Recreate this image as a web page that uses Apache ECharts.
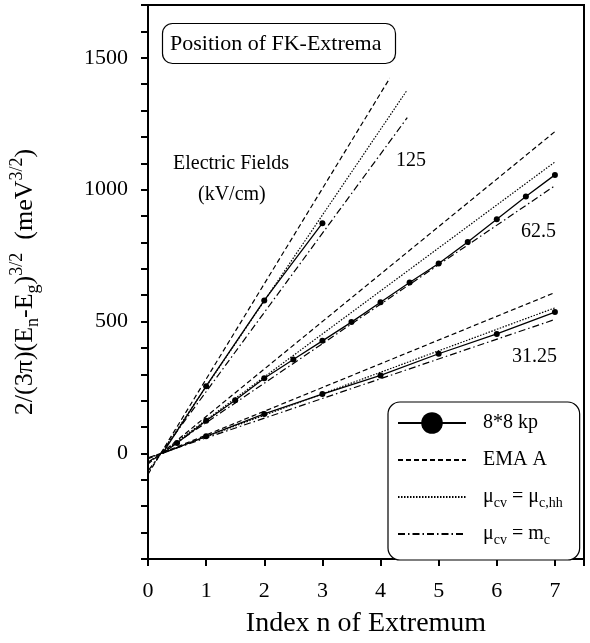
<!DOCTYPE html>
<html>
<head>
<meta charset="utf-8">
<script src="https://cdn.jsdelivr.net/npm/echarts@6/dist/echarts.min.js"></script>
<style>
  html, body { margin: 0; padding: 0; background: #fff; }
  #chartDom { width: 590px; height: 643px; }
</style>
</head>
<body>
<div id="chartDom"></div>
<script>
// 8*8 kp results (solid line with dots), one list per field
const kp125 = [[0.25, 0], [1, 255], [2, 580], [3, 873]];
const kp625 = [[0.25, 0], [0.5, 40], [1, 124], [1.5, 202], [2, 285], [2.5, 356], [3, 427], [3.5, 498],
  [4, 573], [4.5, 648], [5, 720], [5.5, 802], [6, 888], [6.5, 974], [7, 1056]];
const kp3125 = [[0.25, 0], [1, 65], [2, 150], [3, 225], [4, 296], [5, 378], [6, 453], [7, 536]];

// straight model lines: [start, end]
const ema125 = [[0, -79], [4.16, 1423]];
const hh125 = [[0, -72], [4.45, 1375]];
const mc125 = [[0, -66], [4.46, 1273]];
const ema625 = [[0, -40], [7, 1220]];
const hh625 = [[0, -36], [7, 1105]];
const mc625 = [[0, -33], [7, 1015]];
const ema3125 = [[0, -20], [7, 610]];
const hh3125 = [[0, -18], [7, 552]];
const mc3125 = [[0, -16], [7, 508]];

const legendNames = ['kp', 'ema', 'hh', 'mc'];
const legendLabels = {
  kp: '8*8 kp',
  ema: 'EMA A',
  hh: 'μ{sub|cv} = μ{sub|c,hh}',
  mc: 'μ{sub|cv} = m{sub|c}'
};

const serif = 'Liberation Serif';
const chart = echarts.init(document.getElementById('chartDom'));

const styles = {
  kp: { type: 'solid', width: 1.3 },
  ema: { type: [5, 3], width: 1.2 },
  hh: { type: [1.5, 1.5], width: 1.2 },
  mc: { type: [7, 3, 1.5, 3], width: 1.2 }
};

function line(name, data) {
  const isKp = name === 'kp';
  return {
    name: name,
    type: 'line',
    data: isKp ? data.map((p, i) => (i === 0 && p[1] === 0 ? { value: p, symbol: 'none' } : p)) : data,
    symbol: isKp ? 'circle' : 'none',
    symbolSize: 6,
    showSymbol: isKp,
    itemStyle: { color: '#000', opacity: isKp ? 1 : 0 },
    lineStyle: Object.assign({ color: '#000', opacity: 1 }, styles[name]),
    emphasis: { disabled: true },
    animation: false,
    z: isKp ? 3 : 2
  };
}

const series = [
  line('kp', kp125), line('ema', ema125), line('hh', hh125), line('mc', mc125),
  line('kp', kp625), line('ema', ema625), line('hh', hh625), line('mc', mc625),
  line('kp', kp3125), line('ema', ema3125), line('hh', hh3125), line('mc', mc3125)
];

const option = {
  backgroundColor: '#fff',
  textStyle: { fontFamily: serif, color: '#000' },
  title: {
    text: 'Position of FK-Extrema',
    left: 162,
    top: 23,
    padding: [10, 14, 9, 8],
    borderColor: '#000',
    borderWidth: 1.2,
    borderRadius: 10,
    textStyle: { fontFamily: serif, fontSize: 22, fontWeight: 'normal', color: '#000' }
  },
  legend: {
    data: legendNames.map(n => (n === 'kp' ? { name: n } : { name: n, itemStyle: { opacity: 0 } })),
    orient: 'vertical',
    left: 388,
    top: 402,
    padding: [8, 17, 13, 9],
    itemWidth: 68,
    itemHeight: 27,
    itemGap: 11,
    borderColor: '#000',
    borderWidth: 1.2,
    borderRadius: 12,
    backgroundColor: '#fff',
    selectedMode: false,
    formatter: n => legendLabels[n],
    textStyle: {
      fontFamily: serif, fontSize: 20, color: '#000', padding: [0, 0, 0, 12], lineHeight: 26,
      rich: { sub: { fontFamily: serif, fontSize: 14, verticalAlign: 'bottom', lineHeight: 14 } }
    }
  },
  grid: { left: 146, right: 6, top: 5, bottom: 77, show: true, borderColor: '#000', borderWidth: 2 },
  xAxis: {
    type: 'value',
    min: 0,
    max: 7.5,
    interval: 1,
    name: 'Index n of Extremum',
    nameLocation: 'middle',
    nameGap: 51,
    nameTextStyle: { fontFamily: serif, fontSize: 28, color: '#000' },
    axisLine: { onZero: false, lineStyle: { color: '#000', width: 2 } },
    axisTick: { inside: false, length: 7, lineStyle: { color: '#000', width: 2 } },
    axisLabel: {
      margin: 21, fontFamily: serif, fontSize: 22, color: '#000',
      formatter: v => (Number.isInteger(v) ? String(v) : '')
    },
    splitLine: { show: false }
  },
  yAxis: {
    type: 'value',
    min: -400,
    max: 1700,
    interval: 100,
    name: '2/(3π)(E{sub|n}-E{sub|g}){sup|3/2}  (meV{sup|3/2})',
    nameLocation: 'middle',
    nameGap: 106,
    nameRotate: 90,
    nameTextStyle: {
      fontFamily: serif, fontSize: 26, color: '#000', lineHeight: 34,
      rich: {
        sub: { fontFamily: serif, fontSize: 18, verticalAlign: 'bottom', lineHeight: 18 },
        sup: { fontFamily: serif, fontSize: 18, verticalAlign: 'top', lineHeight: 18 }
      }
    },
    axisLine: { onZero: false, lineStyle: { color: '#000', width: 2 } },
    axisTick: { inside: false, length: 7, lineStyle: { color: '#000', width: 2 } },
    axisLabel: {
      margin: 20, fontFamily: serif, fontSize: 22, color: '#000',
      formatter: v => (v % 500 === 0 ? String(v) : '')
    },
    splitLine: { show: false }
  },
  graphic: [
    { type: 'text', left: 173, top: 154, style: { text: 'Electric Fields', font: '20px "Liberation Serif"', fill: '#000' } },
    { type: 'text', left: 198, top: 185, style: { text: '(kV/cm)', font: '20px "Liberation Serif"', fill: '#000' } },
    { type: 'text', left: 396, top: 151, style: { text: '125', font: '20px "Liberation Serif"', fill: '#000' } },
    { type: 'text', left: 521, top: 222, style: { text: '62.5', font: '20px "Liberation Serif"', fill: '#000' } },
    { type: 'text', left: 512, top: 347, style: { text: '31.25', font: '20px "Liberation Serif"', fill: '#000' } }
  ],
  series: series
};

chart.setOption(option);
</script>
</body>
</html>
